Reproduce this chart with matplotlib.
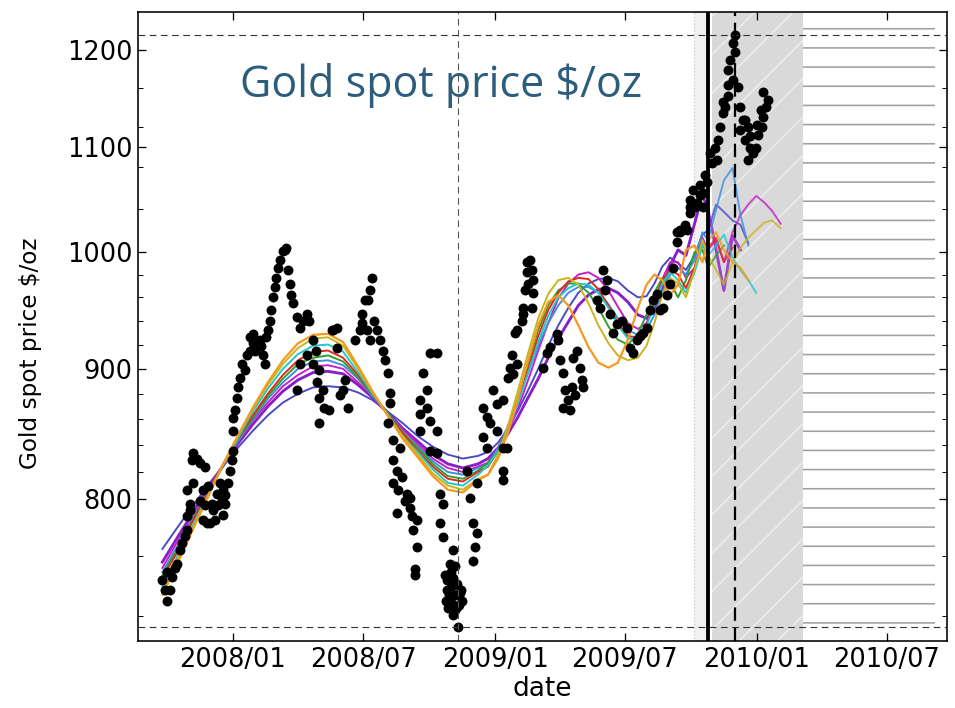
import numpy as np
import matplotlib
matplotlib.use("Agg")
import matplotlib.pyplot as plt
import matplotlib.dates as mdates
from matplotlib.ticker import FixedLocator, NullFormatter, FuncFormatter

# ---------------------------------------------------------------------------
# Daily gold spot price ($/oz); days counted from 2008-01-01
# ---------------------------------------------------------------------------
price_days = [
    -98, -95, -91, -88, -91, -84, -81, -78, -74, -70, -67, -64, -64, -60, -60, -63,
    -56, -57, -56, -50, -46, -39, -42, -46, -42, -36, -32, -29, -27, -22, -18, -15,
    -14, -11, -10, -7, -4, -1, 0, 1, 0, 3, 6, 7, 10, 13, 17,
    -39, -25, -21, -13, -35,
    20, 24, 28, 24, 28, 34, 38, 42, 45, 47, 49, 52, 54, 56, 59, 61, 63, 66, 70, 73,
    75, 77, 80, 82, 84, 89, 94, 98, 103, 107, 112, 117, 121, 121, 121, 128, 126, 89,
    94, 103, 112, 116, 138, 145, 145, 140, 154, 161, 135, 149, 156, 31, 40,
    170, 177, 180, 181, 184, 188, 191, 194, 187, 191, 197, 201, 205, 209, 212, 216,
    219, 219, 216, 223, 233, 223, 229, 236, 223, 230, 243, 247, 229, 247, 257, 251,
    257, 254, 254, 240, 250,
    275, 285, 265, 271, 261, 271, 261, 275, 261, 285, 275, 285, 289, 293, 289, 293,
    307, 303, 307, 313, 299, 317, 303, 313, 307, 300, 310, 320, 314, 296, 306,
    297, 302, 306, 310, 315, 318, 299, 304, 310,
    327, 331, 341, 335, 341, 338, 335, 349, 355, 363, 369, 359, 349, 369, 355, 377,
    377, 377, 383, 377, 384, 387, 389, 394, 396, 396, 391, 403, 405, 405, 410, 410,
    412, 415, 417, 419, 417, 408, 419,
    433, 438, 443, 452, 454, 456, 461, 463, 461, 468, 473, 475, 480, 484, 487, 489,
    470, 477,
    508, 512, 517, 522, 519, 526, 530, 536, 543, 550, 554, 558, 564, 568, 572, 578,
    582, 586, 592, 596, 600, 606, 610, 614, 620, 624, 620, 624, 631, 634, 638, 638,
    638, 642, 645, 648, 652, 656, 656, 661, 666, 669, 652, 659,
    673, 676, 677, 680, 683, 687, 690, 694, 691, 697, 698, 701, 701, 704, 708, 712,
    718, 708, 715, 722, 726, 719, 740, 743, 740, 738, 733, 729, 746, 736,
    715, 722, 731, 690, 683,
]
price_usd = [
    744, 737, 730, 737, 749, 746, 752, 755, 764, 769, 774, 778, 788, 792, 797, 807,
    812, 829, 834, 830, 827, 824, 807, 799, 785, 783, 783, 797, 792, 804, 812, 799,
    807, 797, 803, 812, 821, 829, 836, 851, 861, 867, 877, 885, 893, 904, 899,
    796, 785, 796, 789, 810,
    911, 915, 921, 926, 929, 919, 924, 911, 904, 926, 932, 940, 949, 960, 969, 977,
    986, 993, 1001, 1002, 1004, 984, 972, 962, 955, 943, 934, 940, 946, 940, 924,
    889, 899, 877, 857, 869, 883, 883, 904, 911, 904, 915, 932, 934, 917, 932, 883,
    869, 867, 879, 891, 915, 919,
    924, 932, 938, 946, 958, 958, 966, 977, 932, 924, 940, 932, 924, 915, 907, 897,
    881, 873, 857, 844, 838, 829, 821, 816, 812, 807, 804, 801, 790, 794, 785, 778,
    766, 751, 747, 799, 788,
    913, 913, 897, 883, 875, 869, 864, 859, 851, 851, 836, 834, 804, 797, 783, 773,
    764, 755, 745, 741, 737, 735, 730, 726, 721, 725, 734, 730, 713, 747, 740,
    730, 734, 728, 724, 727, 737, 744, 749, 753,
    821, 801, 812, 783, 776, 766, 757, 869, 862, 883, 872, 857, 846, 851, 838, 838,
    821, 814, 838, 875, 893, 901, 911, 930, 932, 904, 896, 940, 946, 951, 982, 991,
    972, 993, 984, 964, 951, 966, 975,
    901, 913, 918, 929, 924, 907, 897, 883, 869, 875, 885, 909, 915, 901, 891, 885,
    867, 879,
    958, 951, 984, 975, 966, 946, 930, 937, 940, 934, 917, 913, 924, 927, 930, 934,
    949, 958, 963, 949, 951, 962, 972, 986, 1009, 1018, 1018, 1020, 1025, 1020, 1036, 1042,
    1048, 1058, 1042, 1045, 1053, 1055, 1042, 1065, 1094, 1084, 1062, 1072,
    1099, 1087, 1106, 1120, 1134, 1140, 1151, 1189, 1179, 1168, 1208, 1217, 1198, 1161,
    1140, 1127, 1120, 1117, 1106, 1099, 1094, 1087, 1155, 1140, 1130, 1120, 1111,
    1099, 1147, 1137,
    1127, 1110, 1122, 1163, 1145,
]

# ---------------------------------------------------------------------------
# Fitted trajectories on a common day grid (days from 2008-01-01)
# ---------------------------------------------------------------------------
fit_days = [
    -98, -77, -56, -35, -14, 7, 28, 49, 70, 91, 112, 133, 154, 175, 195, 216,
    237, 258, 279, 300, 321, 342,
    356, 370, 384, 398, 412, 426, 440, 454, 468, 482, 496, 510, 524, 537, 551,
    565, 577, 588, 599, 610, 621, 632, 644, 655, 663,
]
fit_orange = [
    734, 755, 778, 801, 825, 847, 869, 889, 907, 921, 928, 929, 922, 902, 882, 863,
    845, 831, 817, 807, 805, 814,
    818, 830, 850, 877, 907, 936, 956, 962, 953, 936, 918, 905, 901, 905, 924,
    951, 971, 980, 975, 962, 971, 1002, 1006, 991, 1011,
]
fit_gold = [
    737, 758, 779, 802, 825, 847, 868, 887, 904, 917, 925, 926, 919, 900, 881, 863,
    847, 833, 819, 810, 807, 815,
    818, 833, 855, 883, 913, 942, 963, 975, 977, 971, 955, 936, 921, 911, 907,
    909, 919, 938, 962, 977, 972, 960, 984, 1011, 997,
]
fit_cyan = [
    740, 760, 781, 803, 825, 845, 866, 884, 900, 912, 919, 920, 914, 897, 880, 864,
    847, 835, 822, 812, 810, 818,
    825, 836, 851, 873, 897, 922, 944, 960, 968, 972, 971, 964, 951, 936, 925,
    925, 935, 954, 972, 982, 975, 964, 982, 1006, 997,
]
fit_red = [
    745, 763, 784, 805, 825, 845, 863, 880, 895, 907, 914, 915, 909, 895, 880, 864,
    849, 836, 824, 815, 813, 820,
    824, 836, 853, 875, 900, 927, 949, 964, 974, 977, 976, 967, 953, 938, 927,
    926, 936, 957, 975, 984, 980, 968, 986, 1009, 1004,
]
fit_green = [
    747, 765, 785, 805, 825, 844, 861, 878, 892, 904, 909, 911, 906, 893, 879, 865,
    850, 838, 826, 817, 815, 821,
    827, 835, 853, 877, 905, 932, 953, 966, 972, 972, 964, 951, 935, 924, 920,
    929, 945, 964, 977, 973, 960, 975, 1000, 1002, 986,
]
fit_lightblue = [
    749, 767, 786, 805, 824, 843, 860, 876, 889, 900, 906, 907, 903, 892, 878, 865,
    850, 839, 828, 820, 818, 823,
    826, 838, 855, 875, 897, 919, 938, 953, 964, 969, 969, 964, 954, 942, 932,
    928, 932, 945, 964, 980, 986, 980, 993, 1018, 1011,
]
fit_magenta = [
    752, 770, 787, 807, 824, 842, 859, 873, 886, 895, 902, 903, 900, 889, 878, 865,
    852, 841, 830, 823, 820, 824,
    827, 837, 851, 869, 891, 915, 938, 959, 972, 980, 982, 977, 966, 952, 938,
    933, 938, 955, 976, 991, 991, 977, 986, 1013, 1002,
]
fit_purple = [
    756, 773, 790, 808, 824, 841, 856, 870, 882, 891, 897, 898, 896, 887, 877, 865,
    853, 843, 833, 826, 823, 826,
    830, 838, 849, 862, 877, 892, 909, 925, 939, 953, 962, 967, 968, 964, 956,
    945, 942, 949, 966, 988, 1002, 997, 1026, 1053, 1039,
]
fit_blue = [
    765, 780, 795, 810, 824, 838, 851, 863, 873, 880, 885, 886, 885, 881, 875, 866,
    857, 847, 839, 833, 830, 832,
    835, 842, 853, 867, 883, 900, 919, 936, 951, 964, 972, 976, 977, 974, 966,
    960, 961, 972, 987, 995, 990, 984, 997, 1016, 1020,
]

# Forecast continuation after the end of the fit window
ext_days = [663, 674, 685, 697, 708, 719, 730, 741, 752, 764]
nan = np.nan
ext_orange = [1011, 1018, 1002, 991, 986, 975, nan, nan, nan, nan]
ext_gold = [997, 984, 971, 991, 1004, 1013, 1020, 1027, 1029, 1022]
ext_cyan = [997, 1006, 1016, 995, 984, 975, 964, nan, nan, nan]
ext_red = [1004, 1013, 991, 1004, nan, nan, nan, nan, nan, nan]
ext_green = [986, 997, 1006, nan, nan, nan, nan, nan, nan, nan]
ext_lightblue = [1011, 1039, 1067, 1079, 1034, 1006, nan, nan, nan, nan]
ext_magenta = [1002, 1011, 991, 1018, 1034, 1044, 1052, 1046, 1038, 1026]
ext_purple = [1039, 1002, 966, 1015, 1002, nan, nan, nan, nan, nan]
ext_blue = [1020, 1044, 1037, 1029, 1025, 1008, nan, nan, nan, nan]

fit_series = [
    (fit_blue, ext_blue, "#4a4ac4", 1.2),
    (fit_purple, ext_purple, "#8a1fc8", 1.8),
    (fit_magenta, ext_magenta, "#c81ec8", 1.2),
    (fit_lightblue, ext_lightblue, "#3d8fe0", 1.2),
    (fit_green, ext_green, "#2ea02e", 1.2),
    (fit_red, ext_red, "#e0281e", 1.2),
    (fit_cyan, ext_cyan, "#1ec8c8", 1.2),
    (fit_gold, ext_gold, "#c8b41e", 1.2),
    (fit_orange, ext_orange, "#f59a1e", 1.4),
]

# Windows on the time axis
calib_shade = ("2009-10-05", "2009-10-25")
forecast_window = ("2009-10-30", "2010-03-06")
horizon_window = ("2010-03-06", "2010-09-06")
x_range = ("2007-08-22", "2010-09-23")
y_range = (704, 1242)
y_major = [800, 900, 1000, 1100, 1200]
y_minor = [720, 760, 820, 840, 860, 880, 920, 940, 960, 980, 1040, 1080, 1120, 1160]
x_ticks = ["2008-01-01", "2008-07-01", "2009-01-01", "2009-07-01", "2010-01-01", "2010-07-01"]

BASE = np.datetime64("2008-01-01")


def to_dates(days):
    d = np.asarray(days, dtype=float)
    return BASE + np.round(d).astype("int64").astype("timedelta64[D]")


DPI = 115.2
fig = plt.figure(figsize=(955 / DPI, 708 / DPI), dpi=DPI, facecolor="white")
ax = fig.add_axes([138 / 955, 1 - 641 / 708, 809 / 955, 629 / 708])
ax.set_yscale("log")

# Shaded windows
ax.axvspan(np.datetime64(calib_shade[0]), np.datetime64(calib_shade[1]),
           facecolor="#f1f1f1", edgecolor="#c8c8c8", linestyle=":", lw=0.8, zorder=0)
ax.axvspan(np.datetime64(forecast_window[0]), np.datetime64(forecast_window[1]),
           facecolor="#d9d9d9", edgecolor="#ececec", hatch="/", lw=0, zorder=1)
ax.axvspan(np.datetime64(horizon_window[0]), np.datetime64(horizon_window[1]),
           facecolor="white", edgecolor="#a0a0a0", hatch="-", lw=0, zorder=1)

# Fitted trajectories
fit_dates = to_dates(fit_days)
ext_dates = to_dates(ext_days)
for fit, ext, color, lw in fit_series:
    ax.plot(fit_dates, fit, color=color, lw=lw, zorder=2)
    ax.plot(ext_dates, ext, color=color, lw=lw, alpha=0.8, zorder=2)

# Price observations
pdates = to_dates(price_days)
prices = np.asarray(price_usd, dtype=float)
ax.plot(pdates, prices, "o", color="black", ms=6.2, mew=0, zorder=4)

# Extremes of the observed price
i_max = int(np.argmax(prices))
i_min = int(np.argmin(prices))
ax.axhline(prices[i_max], color="#333333", lw=0.7, ls=(0, (6, 4)), zorder=5)
ax.axhline(prices[i_min], color="#333333", lw=0.7, ls=(0, (6, 4)), zorder=5)
ax.axvline(pdates[i_min], color="#555555", lw=0.7, ls=(0, (6, 4)), zorder=5)
ax.axvline(pdates[i_max], color="black", lw=1.4, ls=(0, (6, 3)), zorder=5)

# End of the fit window
ax.axvline(fit_dates[-1], color="black", lw=2.4, zorder=6)

# Axes
ax.set_xlim(np.datetime64(x_range[0]), np.datetime64(x_range[1]))
ax.set_ylim(*y_range)
ax.xaxis.set_major_locator(FixedLocator(mdates.date2num(np.array(x_ticks, dtype="datetime64[D]"))))
ax.xaxis.set_major_formatter(mdates.DateFormatter("%Y/%m"))
ax.yaxis.set_major_locator(FixedLocator(y_major))
ax.yaxis.set_major_formatter(FuncFormatter(lambda v, _: f"{v:.0f}"))
ax.yaxis.set_minor_locator(FixedLocator(y_minor))
ax.yaxis.set_minor_formatter(NullFormatter())
ax.xaxis.set_minor_locator(FixedLocator([]))

ax.tick_params(which="both", direction="in", top=True, right=True, labelsize=16)
ax.tick_params(which="major", length=5, width=0.8)
ax.tick_params(which="minor", length=3, width=0.6)
for s in ax.spines.values():
    s.set_linewidth(1.0)
    s.set_zorder(7)

ax.set_xlabel("date", fontsize=16.5, labelpad=2)
ax.set_ylabel("Gold spot price $/oz", fontsize=14.5)
ax.yaxis.set_label_coords(-0.119, 0.458)

fig.text(441 / 955, 1 - 97 / 708, "Gold spot price $/oz", fontsize=27,
         family="Open Sans", color="#2c5d7c", ha="center", va="baseline")

fig.savefig("out.png", dpi=DPI, facecolor="white")
